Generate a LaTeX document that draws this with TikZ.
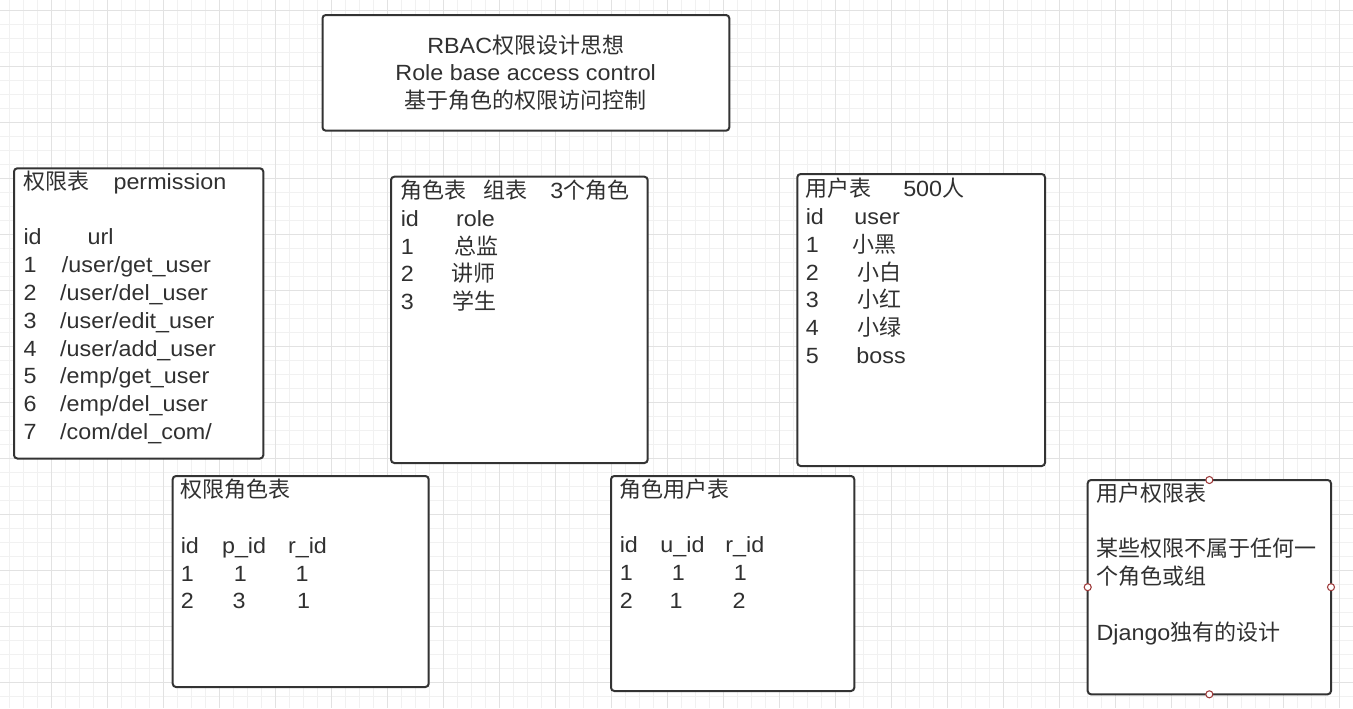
\documentclass[tikz,border=0pt]{standalone}
\usepackage{fontspec}
\setmainfont{Liberation Sans}[FakeStretch=1.06]
\newfontfamily\cjk{Noto Sans CJK SC}
\newlength\pxu
\setlength\pxu{0.75pt}
\newcommand\cl[2]{\makebox[#1\pxu][l]{#2}}
\newcommand\ck[1]{{\cjk #1}}
\definecolor{gridminor}{HTML}{F1F1F1}
\definecolor{gridmajor}{HTML}{E2E2E2}
\definecolor{boxc}{HTML}{333333}
\definecolor{txtc}{HTML}{303030}
\definecolor{portc}{HTML}{9E3B3B}
\tikzset{
  minorline/.style={draw=gridminor, line width=0.75pt},
  majorline/.style={draw=gridmajor, line width=0.75pt},
  tbl/.style={draw=boxc, fill=white, line width=1.5pt, rounded corners=2.5pt,
    rectangle, inner sep=0pt, outer sep=0pt, anchor=north west},
  txt/.style={anchor=base west, inner sep=0pt, text=txtc,
    font=\fontsize{16.5pt}{20.85pt}\selectfont},
  ttl/.style={anchor=base, inner sep=0pt, text=txtc,
    font=\fontsize{16.5pt}{20.6pt}\selectfont},
  port/.style={circle, draw=portc, fill=white, line width=0.8pt,
    minimum size=5.3pt, inner sep=0pt}
}
\newcommand\tbox[5]{\node[tbl, minimum width={(#4-#2)*0.75}, minimum height={(#5-#3)*0.75}] (#1) at (#2,#3) {};}
\begin{document}
\begin{tikzpicture}[x=0.75pt,y=-0.75pt]
\useasboundingbox (0,0) rectangle (1353,708);
\fill[white] (0,0) rectangle (1353,708);
% grid
\foreach \x in {9.5,23.5,...,1353} \draw[minorline] (\x,0) -- (\x,708);
\foreach \y in {10.5,24.5,...,708} \draw[minorline] (0,\y) -- (1353,\y);
\foreach \x in {51.5,107.5,...,1353} \draw[majorline] (\x,0) -- (\x,708);
\foreach \y in {10.5,66.5,...,708} \draw[majorline] (0,\y) -- (1353,\y);

% boxes
\tbox{title}{322.5}{15}{729.3}{130.7}
\tbox{perm}{14}{168.3}{263.3}{458.5}
\tbox{role}{391}{176.7}{647.7}{463}
\tbox{user}{797.3}{174}{1045}{466}
\tbox{permrole}{172.7}{476}{428.7}{687}
\tbox{roleuser}{611}{476}{854.3}{691}
\tbox{userperm}{1087.7}{480}{1331}{694.3}

% title text
\node[ttl] (titletxt) at (525.7,53.3) {\parbox[t]{400\pxu}{\centering
RBAC\ck{权限设计思想}\\
Role base access control\\
\ck{基于角色的权限访问控制}}};

% permission table
\node[txt] (permtxt) at (23.3,189.3) {\parbox[t]{240\pxu}{%
\cl{90}{\ck{权限表}}permission\\
\mbox{}\\
\cl{64}{id}url\\
\cl{38.4}{1}/user/get\_user\\
\cl{36.7}{2}/user/del\_user\\
\cl{36.7}{3}/user/edit\_user\\
\cl{36.7}{4}/user/add\_user\\
\cl{36.7}{5}/emp/get\_user\\
\cl{36.7}{6}/emp/del\_user\\
\cl{36.7}{7}/com/del\_com/}};

% role table
\node[txt] (roletxt) at (400.5,198.5) {\parbox[t]{250\pxu}{%
\cl{83}{\ck{角色表}}\cl{66.5}{\ck{组表}}3\ck{个角色}\\
\cl{55.3}{id}role\\
\cl{54}{1}\ck{总监}\\
\cl{50.5}{2}\ck{讲师}\\
\cl{51.5}{3}\ck{学生}}};

% user table
\node[txt] (usertxt) at (805.5,196.7) {\parbox[t]{240\pxu}{%
\cl{97.5}{\ck{用户表}}500\ck{人}\\
\cl{48.7}{id}user\\
\cl{46.5}{1}\ck{小黑}\\
\cl{51.5}{2}\ck{小白}\\
\cl{51.5}{3}\ck{小红}\\
\cl{51.5}{4}\ck{小绿}\\
\cl{50.7}{5}boss}};

% permission-role table
\node[txt] (permroletxt) at (180.5,497.7) {\parbox[t]{240\pxu}{%
\ck{权限角色表}\\
\mbox{}\\
\cl{41.3}{id}\cl{66}{p\_id}r\_id\\
\cl{53.1}{1}\cl{61.7}{1}1\\
\cl{51.8}{2}\cl{64.6}{3}1}};

% role-user table
\node[txt] (roleusertxt) at (619.5,497.2) {\parbox[t]{230\pxu}{%
\ck{角色用户表}\\
\mbox{}\\
\cl{40.7}{id}\cl{65}{u\_id}r\_id\\
\cl{52.1}{1}\cl{62}{1}1\\
\cl{49.8}{2}\cl{63.1}{1}2}};

% user-permission table
\node[txt] (userpermtxt) at (1096.3,501) {\parbox[t]{235\pxu}{%
\ck{用户权限表}\\
\mbox{}\\
\ck{某些权限不属于任何一}\\
\ck{个角色或组}\\
\mbox{}\\
Django\ck{独有的设计}}};

% connection points
\node[port] (pt) at (userperm.north) {};
\node[port] (pl) at (userperm.west) {};
\node[port] (pr) at (userperm.east) {};
\node[port] (pb) at (userperm.south) {};
\end{tikzpicture}
\end{document}
